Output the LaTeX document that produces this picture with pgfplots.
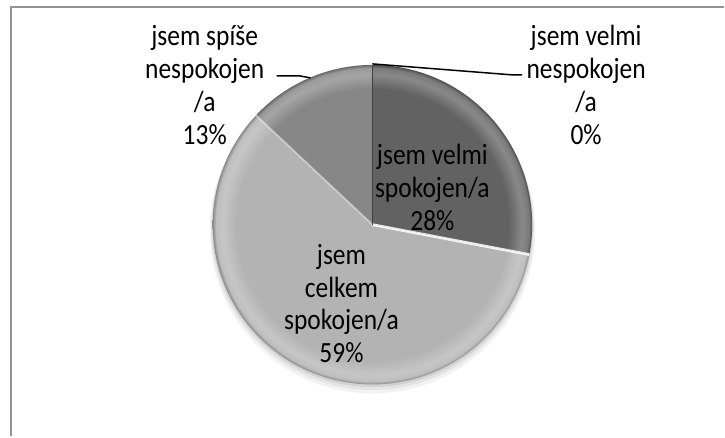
\documentclass[border=0pt]{standalone}
\usepackage{pgfplots}
\pgfplotsset{compat=1.18}
\usepackage{fontspec}
\setmainfont{Carlito}
\definecolor{cA}{HTML}{626262}
\definecolor{cB}{HTML}{B3B3B3}
\definecolor{cC}{HTML}{878787}
\definecolor{frame}{HTML}{929292}
% data (percent), clockwise from 12 o'clock
\def\vA{28}% jsem velmi spokojen/a
\def\vB{59}% jsem celkem spokojen/a
\def\vC{13}% jsem spíše nespokojen/a
\def\vD{0}%  jsem velmi nespokojen/a
\pgfmathsetmacro\aA{90}
\pgfmathsetmacro\aB{\aA-3.6*\vA}
\pgfmathsetmacro\aC{\aB-3.6*\vB}
\pgfmathsetmacro\aD{\aC-3.6*\vC}
\pgfdeclareradialshading{bevA}{\pgfpoint{0bp}{0bp}}{color(0bp)=(cA); color(21.3bp)=(cA); color(23.5bp)=(cA!75!white); color(24.5bp)=(cA!85!white); color(25bp)=(cA!78!black); color(50bp)=(cA!78!black)}
\pgfdeclareradialshading{bevB}{\pgfpoint{0bp}{0bp}}{color(0bp)=(cB); color(21.3bp)=(cB); color(23.5bp)=(cB!75!white); color(24.5bp)=(cB!85!white); color(25bp)=(cB!78!black); color(50bp)=(cB!78!black)}
\pgfdeclareradialshading{bevC}{\pgfpoint{0bp}{0bp}}{color(0bp)=(cC); color(21.3bp)=(cC); color(23.5bp)=(cC!75!white); color(24.5bp)=(cC!85!white); color(25bp)=(cC!78!black); color(50bp)=(cC!78!black)}
\newcommand\slice[3]{%
  \begin{scope}
    \clip (axis cs:373,212) -- ++(#1:80bp) arc[start angle=#1, end angle=#2, radius=80bp] -- cycle;
    \shade[shading=#3] (axis cs:373,212) circle[radius=80bp];
  \end{scope}}
\tikzset{lbl/.style={align=center, font=\fontsize{12.8}{14.4}\selectfont, inner sep=0pt, yscale=1.15, transform shape}}
\begin{document}
\begin{tikzpicture}
\begin{axis}[
  scale only axis, width=362.5bp, height=218.5bp,
  xmin=0, xmax=725, ymin=0, ymax=437,
  hide axis, clip=false,
]
\draw[draw=none] (axis cs:0,0) rectangle (axis cs:725,437);
% frame
\draw[frame, line width=1.1bp] (axis cs:11,0) -- (axis cs:11,430) -- (axis cs:725,430);
% soft shadow
\fill[black, opacity=0.05] (axis cs:373,206) circle[radius=81.5bp];
\fill[black, opacity=0.06] (axis cs:373,208) circle[radius=80.8bp];
\fill[black, opacity=0.08] (axis cs:373,210) circle[radius=80.3bp];
% slices
\slice{\aA}{\aB}{bevA}
\slice{\aB}{\aC}{bevB}
\slice{\aC}{\aD}{bevC}
% slice edges
\draw[white, line width=1.4bp, opacity=0.85] (axis cs:373,212) -- ++(\aB:80bp);
\draw[white, line width=0.9bp, opacity=0.45] (axis cs:373,212) -- ++(\aC:80bp);
\draw[black!75, line width=0.6bp] (axis cs:373,212) -- ++(\aA:80bp);
% leader lines
\draw[black, line width=0.75bp] (axis cs:373,373) -- (axis cs:513,362) -- (axis cs:523,362);
\draw[black, line width=0.75bp] (axis cs:311,359) -- (axis cs:300,361) -- (axis cs:277,361);
% labels
\node[lbl] at (axis cs:587,352) {jsem velmi\\nespokojen\\/a\\\vD\%};
\node[lbl] at (axis cs:205,352) {jsem spíše\\nespokojen\\/a\\\vC\%};
\node[lbl] at (axis cs:433,249) {jsem velmi\\spokojen/a\\\vA\%};
\node[lbl] at (axis cs:342,133) {jsem\\celkem\\spokojen/a\\\vB\%};
\end{axis}
\end{tikzpicture}
\end{document}
